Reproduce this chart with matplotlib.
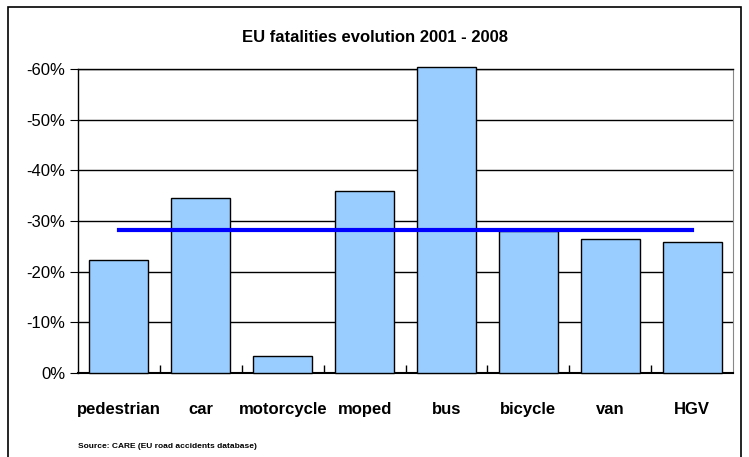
import matplotlib.pyplot as plt
from matplotlib.patches import Rectangle
from matplotlib.ticker import FixedLocator, FuncFormatter

categories = ['pedestrian', 'car', 'motorcycle', 'moped', 'bus', 'bicycle', 'van', 'HGV']
evolution = [-22.3, -34.5, -3.4, -35.9, -60.4, -28.0, -26.4, -25.8]
eu_average = -28.2
yticks = [0, -10, -20, -30, -40, -50, -60]

plt.rcParams['font.family'] = ['Liberation Sans', 'DejaVu Sans']

fig = plt.figure(figsize=(7.49, 4.57), dpi=100)
# outer frame
fig.patches.append(Rectangle((8 / 749, -0.1), 733 / 749, 1.1 - 7 / 457,
                             transform=fig.transFigure, fill=False,
                             edgecolor='black', linewidth=1.2))

ax = fig.add_axes([78 / 749, 1 - 373 / 457, 655 / 749, 304 / 457])
x = list(range(len(categories)))
ax.bar(x, evolution, width=0.72, color='#99ccff', edgecolor='black', linewidth=1.0,
       zorder=3, clip_on=False)
ax.plot([x[0], x[-1]], [eu_average, eu_average], color='#0000ff', linewidth=3, zorder=4)

ax.set_xlim(-0.5, len(categories) - 0.5)
ax.set_ylim(0, -60)
ax.yaxis.set_major_locator(FixedLocator(yticks))
ax.yaxis.set_major_formatter(FuncFormatter(lambda v, p: '%d%%' % round(v)))
ax.grid(axis='y', color='black', linewidth=1.0, zorder=0)
ax.tick_params(axis='y', direction='out', length=6, labelsize=12, pad=3)

ax.set_xticks(x)
ax.set_xticklabels(categories, fontsize=12, fontweight='bold')
ax.tick_params(axis='x', which='major', length=0, pad=21)
ax.xaxis.set_minor_locator(FixedLocator([i + 0.5 for i in range(len(categories) - 1)]))
ax.tick_params(axis='x', which='minor', direction='in', length=6, width=1)

ax.spines['left'].set_linewidth(1.0)
ax.spines['bottom'].set_linewidth(1.5)
ax.spines['top'].set_linewidth(1.0)
ax.spines['right'].set_color('#888888')

fig.text(0.5, 1 - 37 / 457, 'EU fatalities evolution 2001 - 2008', ha='center', va='center',
         fontsize=12, fontweight='bold')
fig.text(78 / 749, 1 - 447 / 457, 'Source: CARE (EU road accidents database)', ha='left',
         va='center', fontsize=6, fontweight='bold')

fig.savefig('out.png', dpi=100)
